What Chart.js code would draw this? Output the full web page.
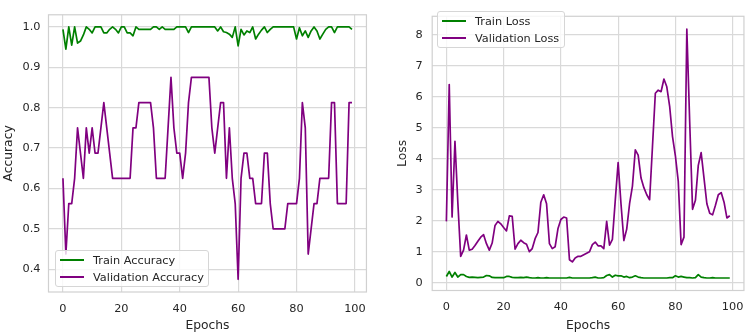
<!DOCTYPE html>
<html>
<head>
<meta charset="utf-8">
<script src="https://cdn.jsdelivr.net/npm/chart.js@4"></script>
<style>
    body { margin: 0; background: #fff; }
    #wrap { position: relative; width: 753px; height: 335px; }
    .painel { position: absolute; top: 0; height: 335px; }
    .legenda {
        position: absolute; box-sizing: border-box;
        background: rgba(255,255,255,0.8); border: 1px solid #d6d6d6; border-radius: 3px;
        font: 11.3px 'DejaVu Sans', sans-serif; color: #262626; padding: 1px 0;
    }
    .legenda .item { height: 16.7px; display: flex; align-items: center; white-space: nowrap; }
    .legenda .traco { display: inline-block; width: 24px; height: 2px; margin: 0 9px 0 4px; }
</style>
</head>
<body>
<div id="wrap">
    <div class="painel" style="left:0;width:376px">
        <canvas id="grafico-acc" width="376" height="335"></canvas>
        <div class="legenda" id="leg-acc" style="left:55px;top:250px;width:154px"></div>
    </div>
    <div class="painel" style="left:376px;width:377px">
        <canvas id="grafico-loss" width="377" height="335"></canvas>
        <div class="legenda" id="leg-loss" style="left:61px;top:11px;width:128px"></div>
    </div>
</div>
<script>
const epocas = Array.from({ length: 100 }, (_, i) => i);
const ticksX = [0, 20, 40, 60, 80, 100];

const trainAcc = [
    0.994, 0.945, 1.0, 0.955, 1.0, 0.96, 0.965, 0.98, 1.0, 0.994,
    0.985, 1.0, 1.0, 1.0, 0.985, 0.985, 0.994, 1.0, 0.994, 0.985,
    1.0, 1.0, 0.985, 0.985, 0.978, 1.0, 0.994, 0.994, 0.994, 0.994,
    0.994, 1.0, 1.0, 0.994, 1.0, 0.994, 0.994, 0.994, 0.994, 1.0,
    1.0, 1.0, 1.0, 0.986, 1.0, 1.0, 1.0, 1.0, 1.0, 1.0,
    1.0, 1.0, 1.0, 0.99, 1.0, 0.988, 0.986, 0.982, 0.974, 1.0,
    0.953, 0.994, 0.98, 0.99, 0.986, 1.0, 0.97, 0.982, 0.992, 1.0,
    0.986, 0.994, 1.0, 1.0, 1.0, 1.0, 1.0, 1.0, 1.0, 1.0,
    0.97, 0.998, 0.978, 0.99, 0.974, 0.99, 1.0, 0.99, 0.97, 0.982,
    0.994, 1.0, 1.0, 0.986, 1.0, 1.0, 1.0, 1.0, 1.0, 0.994
];
const valAcc = [
    0.625, 0.4375, 0.5625, 0.5625, 0.625, 0.75, 0.6875, 0.625, 0.75, 0.6875,
    0.75, 0.6875, 0.6875, 0.75, 0.8125, 0.75, 0.6875, 0.625, 0.625, 0.625,
    0.625, 0.625, 0.625, 0.625, 0.75, 0.75, 0.8125, 0.8125, 0.8125, 0.8125,
    0.8125, 0.75, 0.625, 0.625, 0.625, 0.625, 0.75, 0.875, 0.75, 0.6875,
    0.6875, 0.625, 0.6875, 0.8125, 0.875, 0.875, 0.875, 0.875, 0.875, 0.875,
    0.875, 0.75, 0.6875, 0.75, 0.8125, 0.8125, 0.625, 0.75, 0.625, 0.5625,
    0.375, 0.625, 0.6875, 0.6875, 0.625, 0.625, 0.5625, 0.5625, 0.5625, 0.6875,
    0.6875, 0.5625, 0.5, 0.5, 0.5, 0.5, 0.5, 0.5625, 0.5625, 0.5625,
    0.5625, 0.625, 0.8125, 0.75, 0.4375, 0.5, 0.5625, 0.5625, 0.625, 0.625,
    0.625, 0.625, 0.8125, 0.8125, 0.5625, 0.5625, 0.5625, 0.5625, 0.8125, 0.8125
];
const trainLoss = [
    0.2, 0.36, 0.18, 0.33, 0.18, 0.26, 0.26, 0.2, 0.17, 0.18,
    0.17, 0.16, 0.17, 0.18, 0.23, 0.22, 0.17, 0.16, 0.16, 0.16,
    0.16, 0.2, 0.2, 0.17, 0.16, 0.16, 0.17, 0.16, 0.18, 0.16,
    0.15, 0.15, 0.16, 0.15, 0.15, 0.16, 0.15, 0.15, 0.15, 0.15,
    0.15, 0.15, 0.15, 0.17, 0.15, 0.15, 0.15, 0.15, 0.15, 0.15,
    0.15, 0.16, 0.18, 0.15, 0.15, 0.16, 0.23, 0.26, 0.18, 0.24,
    0.22, 0.22, 0.18, 0.2, 0.16, 0.18, 0.22, 0.18, 0.16, 0.15,
    0.15, 0.15, 0.15, 0.15, 0.15, 0.15, 0.15, 0.15, 0.16, 0.16,
    0.22, 0.18, 0.2, 0.18, 0.16, 0.16, 0.15, 0.16, 0.26, 0.18,
    0.16, 0.15, 0.15, 0.16, 0.15, 0.15, 0.15, 0.15, 0.15, 0.15
];
const valLoss = [
    1.98, 6.4, 2.12, 4.57, 2.6, 0.85, 1.05, 1.54, 1.05, 1.08,
    1.2, 1.34, 1.47, 1.55, 1.26, 1.05, 1.28, 1.85, 1.98, 1.9,
    1.78, 1.67, 2.16, 2.14, 1.08, 1.26, 1.37, 1.29, 1.24, 1.0,
    1.1, 1.42, 1.62, 2.6, 2.84, 2.55, 1.26, 1.1, 1.16, 1.75,
    2.04, 2.12, 2.09, 0.74, 0.67, 0.8, 0.85, 0.85, 0.9, 0.95,
    1.0, 1.23, 1.31, 1.19, 1.19, 1.1, 1.98, 1.21, 1.4, 2.66,
    3.88, 2.55, 1.36, 1.73, 2.55, 3.12, 4.29, 4.12, 3.38, 3.07,
    2.84, 2.68, 4.4, 6.12, 6.22, 6.17, 6.58, 6.33, 5.7, 4.72,
    4.1, 3.28, 1.23, 1.47, 8.19, 5.2, 2.37, 2.66, 3.79, 4.2,
    3.38, 2.55, 2.24, 2.19, 2.5, 2.84, 2.91, 2.6, 2.09, 2.16
];

const VERDE = '#008000';
const ROXO = '#800080';
const COR_TEXTO = '#262626';
const COR_GRADE = '#d9d9d9';

Chart.defaults.font.family = "'DejaVu Sans', sans-serif";
Chart.defaults.color = COR_TEXTO;

// moldura cinza em volta da área do gráfico (como os spines do seaborn)
const moldura = {
    id: 'moldura',
    afterDatasetsDraw(chart) {
        const { ctx, chartArea: a } = chart;
        ctx.save();
        ctx.strokeStyle = '#d0d0d0';
        ctx.lineWidth = 1.2;
        ctx.strokeRect(a.left, a.top, a.right - a.left, a.bottom - a.top);
        ctx.restore();
    }
};

function pontos(vals) {
    return vals.map((v, i) => ({ x: epocas[i], y: v }));
}

function criarGrafico(canvasId, cfg) {
    return new Chart(document.getElementById(canvasId).getContext('2d'), {
        type: 'line',
        data: {
            datasets: cfg.series.map(s => ({
                label: s.label, data: pontos(s.dados), borderColor: s.cor, backgroundColor: s.cor,
                borderWidth: 1.7, pointRadius: 0, tension: 0, borderJoinStyle: 'round'
            }))
        },
        options: {
            responsive: false, animation: false, devicePixelRatio: 1,
            layout: { padding: cfg.padding },
            plugins: { legend: { display: false }, tooltip: { enabled: false } },
            scales: {
                x: {
                    type: 'linear', min: -4.95, max: 103.95,
                    afterBuildTicks: s => { s.ticks = ticksX.map(v => ({ value: v })); },
                    afterFit: s => { s.height = cfg.alturaX; },
                    grid: { color: COR_GRADE, lineWidth: 1.2, drawTicks: false },
                    border: { display: false },
                    ticks: { font: { size: 11.3 }, padding: cfg.padX, maxRotation: 0, callback: v => String(v) },
                    title: { display: true, text: 'Epochs', font: { size: 12.3 }, padding: { top: 0, bottom: 2 } }
                },
                y: {
                    min: cfg.yMin, max: cfg.yMax,
                    afterBuildTicks: s => { s.ticks = cfg.ticksY.map(v => ({ value: v })); },
                    afterFit: s => { s.width = cfg.larguraY; },
                    grid: { color: COR_GRADE, lineWidth: 1.2, drawTicks: false },
                    border: { display: false },
                    ticks: { font: { size: 11.3 }, padding: cfg.padY, callback: cfg.formatoY },
                    title: { display: true, text: cfg.tituloY, font: { size: 12.3 }, padding: { top: cfg.padTituloY, bottom: 0 } }
                }
            }
        },
        plugins: [moldura]
    });
}

function montarLegenda(elId, chart) {
    document.getElementById(elId).innerHTML = chart.data.datasets.map(d => `
        <div class="item"><span class="traco" style="background:${d.borderColor}"></span>${d.label}</div>`).join('');
}

const ticksAcc = [0.4, 0.5, 0.6, 0.7, 0.8, 0.9, 1.0];
const ticksLoss = [0, 1, 2, 3, 4, 5, 6, 7, 8];

const chartAcc = criarGrafico('grafico-acc', {
    series: [
        { label: 'Train Accuracy', dados: trainAcc, cor: VERDE },
        { label: 'Validation Accuracy', dados: valAcc, cor: ROXO }
    ],
    padding: { top: 3, right: 8.4, left: 0, bottom: 0 },
    alturaX: 43, larguraY: 48.5, padX: 10, padY: 8, padTituloY: 1.5,
    yMin: 0.3435, yMax: 1.030, ticksY: ticksAcc, formatoY: v => v.toFixed(1), tituloY: 'Accuracy'
});

const chartLoss = criarGrafico('grafico-loss', {
    series: [
        { label: 'Train Loss', dados: trainLoss, cor: VERDE },
        { label: 'Validation Loss', dados: valLoss, cor: ROXO }
    ],
    padding: { top: 4.7, right: 2.4, left: 0, bottom: 0 },
    alturaX: 44.5, larguraY: 56.2, padX: 9.5, padY: 9.5, padTituloY: 19.3,
    yMin: -0.254, yMax: 8.608, ticksY: ticksLoss, formatoY: v => String(v), tituloY: 'Loss'
});

montarLegenda('leg-acc', chartAcc);
montarLegenda('leg-loss', chartLoss);
</script>
</body>
</html>
